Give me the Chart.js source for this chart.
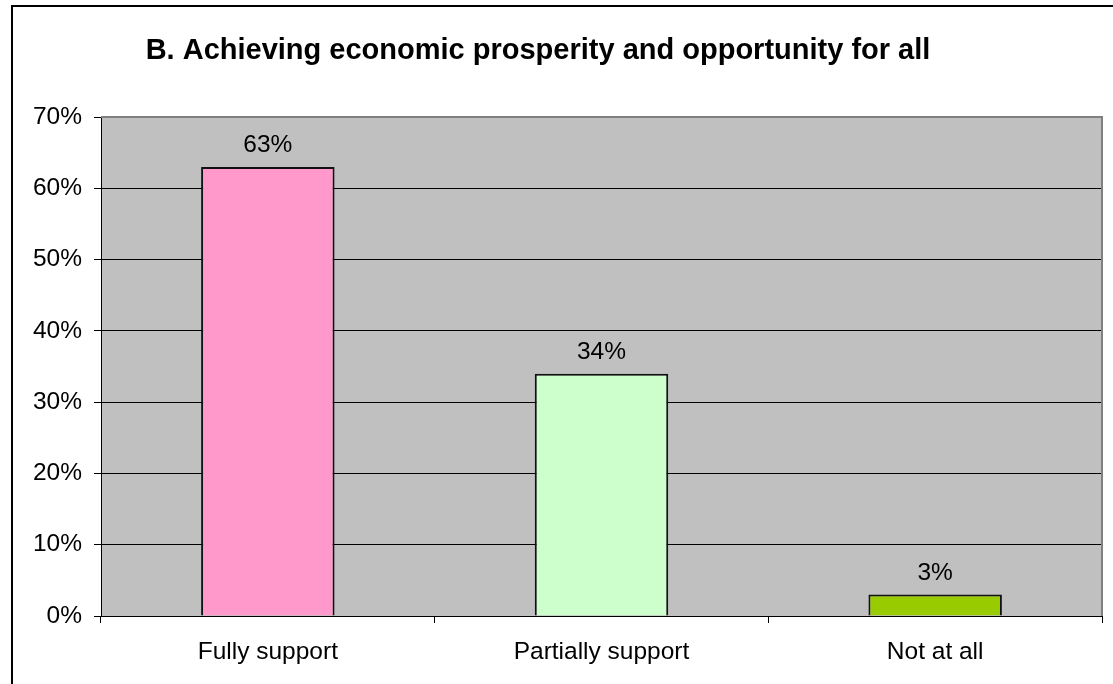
<!DOCTYPE html>
<html>
<head>
<meta charset="utf-8">
<script src="https://cdn.jsdelivr.net/npm/chart.js@4"></script>
<style>
    html, body { margin: 0; padding: 0; background: #fff; overflow: hidden; }
    #frame {
        position: absolute; left: 11px; top: 5px;
        width: 1200px; height: 800px;
        border: 2px solid #000;
    }
    #wrap { position: absolute; left: 0; top: 0; width: 1113px; height: 684px; }
</style>
</head>
<body>
<div id="frame"></div>
<div id="wrap"><canvas id="chart" width="1113" height="684"></canvas></div>
<script>
let titleText = 'B. Achieving economic prosperity and opportunity for all';
let categories = ['Fully support', 'Partially support', 'Not at all'];
let percents = [63, 34, 3];
let barColors = ['#FF99CC', '#CCFFCC', '#99CC00'];
let yTicks = [0, 10, 20, 30, 40, 50, 60, 70];

let fontFamily = '"Liberation Sans", Arial, sans-serif';

// gray plot background + gray top/right edge, title and value labels
let plotDecor = {
    id: 'plotDecor',
    beforeDraw(chart) {
        let a = chart.chartArea;
        let ctx = chart.ctx;
        ctx.save();
        ctx.fillStyle = '#C0C0C0';
        ctx.fillRect(a.left, a.top, a.right - a.left, a.bottom - a.top);
        ctx.restore();
    },
    afterDatasetsDraw(chart) {
        let a = chart.chartArea;
        let ctx = chart.ctx;
        ctx.save();
        ctx.strokeStyle = '#808080';
        ctx.lineWidth = 2;
        ctx.beginPath();
        ctx.moveTo(a.left, a.top);
        ctx.lineTo(a.right, a.top);
        ctx.lineTo(a.right, a.bottom);
        ctx.stroke();

        ctx.fillStyle = '#000';
        ctx.font = '24.5px ' + fontFamily;
        ctx.textAlign = 'center';
        ctx.textBaseline = 'alphabetic';
        chart.getDatasetMeta(0).data.forEach((bar, i) => {
            ctx.fillText(percents[i] + '%', bar.x, bar.y - 15);
        });

        ctx.font = 'bold 29px ' + fontFamily;
        ctx.textBaseline = 'middle';
        ctx.fillText(titleText, 538, 51);
        ctx.restore();
    }
};

let ctx = document.getElementById('chart').getContext('2d');
let chart = new Chart(ctx, {
    type: 'bar',
    data: {
        labels: categories,
        datasets: [{
            data: percents,
            backgroundColor: barColors,
            borderColor: '#111',
            borderWidth: 2,
            barPercentage: 0.4,
            categoryPercentage: 1.0
        }]
    },
    options: {
        responsive: false,
        animation: false,
        layout: { padding: { top: 117, right: 11, bottom: 0, left: 0 } },
        plugins: {
            legend: { display: false },
            title: { display: false },
            tooltip: { enabled: false }
        },
        scales: {
            x: {
                grid: {
                    offset: true,
                    drawOnChartArea: false,
                    drawTicks: true,
                    tickLength: 7,
                    tickColor: '#000'
                },
                border: { color: '#000', width: 1 },
                ticks: {
                    color: '#000',
                    padding: 15,
                    font: { family: fontFamily, size: 24.5 }
                },
                afterFit(scale) { scale.height = 68; }
            },
            y: {
                min: 0,
                max: 70,
                afterBuildTicks(scale) {
                    scale.ticks = yTicks.map(v => ({ value: v }));
                },
                grid: {
                    color: (c) => c.tick && c.tick.value === 70 ? '#808080' : '#000',
                    lineWidth: 1,
                    tickLength: 7,
                    tickColor: '#000'
                },
                border: { color: '#000', width: 1 },
                ticks: {
                    color: '#000',
                    padding: 12,
                    font: { family: fontFamily, size: 24.5 },
                    callback: (v) => v + '%'
                },
                afterFit(scale) { scale.width = 101; }
            }
        }
    },
    plugins: [plotDecor]
});
</script>
</body>
</html>
